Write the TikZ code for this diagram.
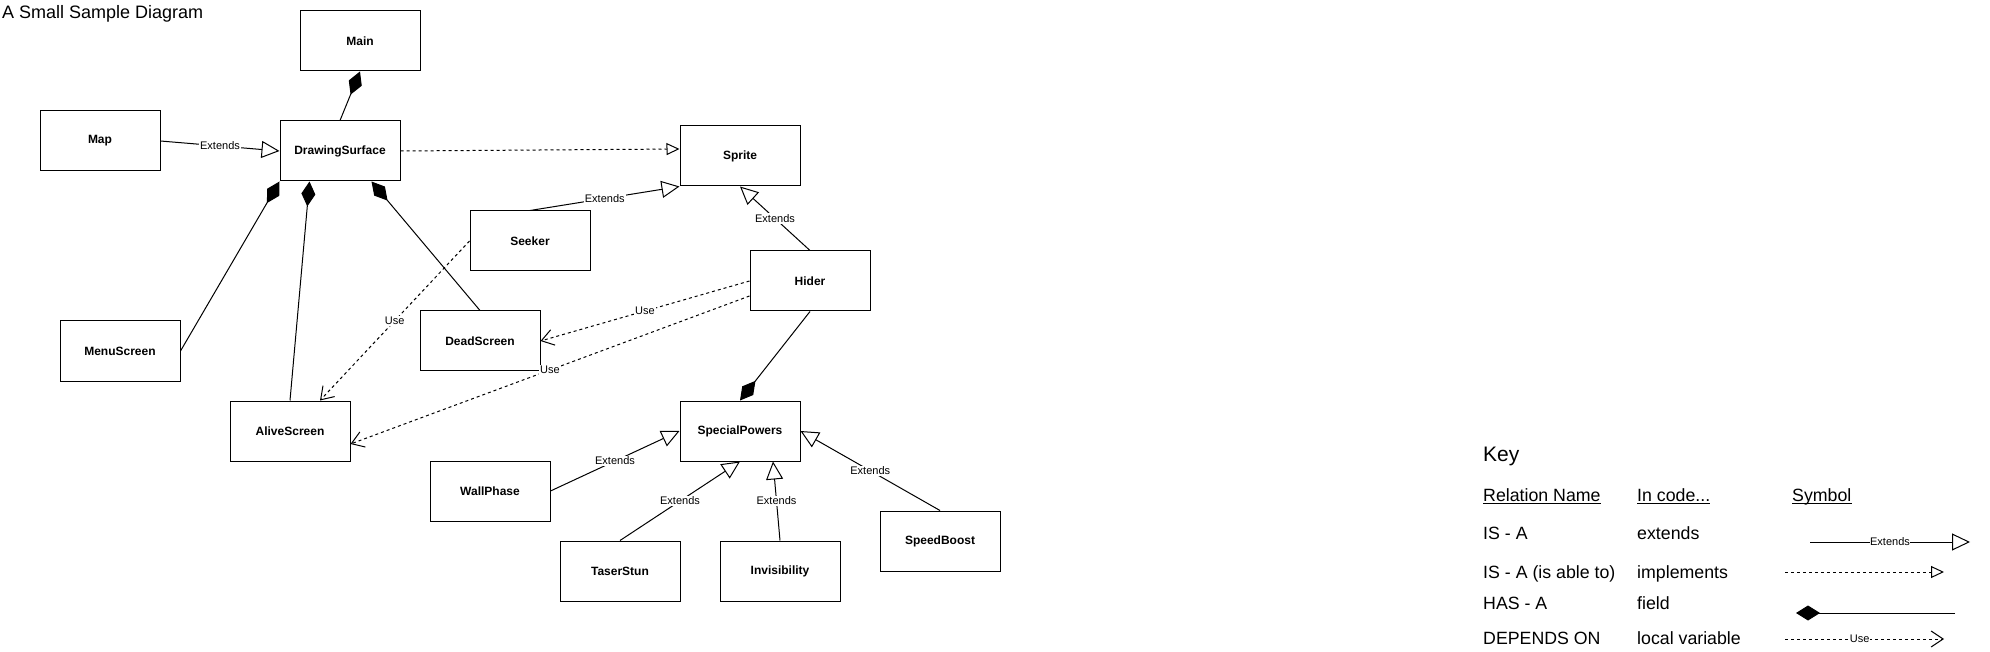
\documentclass[tikz,border=0pt]{standalone}
\usepackage{fontspec}
\setmainfont{Liberation Sans}
\usetikzlibrary{arrows.meta,calc}
\begin{document}
\begin{tikzpicture}[x=1pt,y=-1pt,
  cls/.style={draw,line width=1pt,minimum width=120pt,minimum height=60pt,inner sep=0pt,font=\fontsize{12}{14}\selectfont\bfseries},
  conn/.style={line width=1pt},
  ext/.style={conn,-{Triangle[open,length=18pt,width=17pt]}},
  impl/.style={conn,dash pattern=on 3pt off 3pt,-{Triangle[open,length=13pt,width=12pt]}},
  has/.style={conn,-{Diamond[length=25pt,width=14pt]}},
  usedep/.style={conn,dash pattern=on 3pt off 3pt,-{Straight Barb[length=12pt,width=16pt]}},
  lbl/.style={fill=white,inner sep=1pt,font=\fontsize{11}{12}\selectfont},
  keytxt/.style={anchor=base west,inner sep=0pt,font=\fontsize{17.75}{20}\selectfont}
]
\useasboundingbox (0,0) rectangle (1990,652);

% title
\node[anchor=base west,inner sep=0pt,font=\fontsize{18}{20}\selectfont] (title) at (2,19) {A Small Sample Diagram};

% classes
\node[cls] (main)   at (360,41)  {Main};
\node[cls] (map)    at (100,141) {Map};
\node[cls] (ds)     at (340,151) {DrawingSurface};
\node[cls] (sprite) at (740,156) {Sprite};
\node[cls] (seeker) at (530,241) {Seeker};
\node[cls] (hider)  at (810,281) {Hider};
\node[cls] (dead)   at (480,341) {DeadScreen};
\node[cls] (menu)   at (120,351) {MenuScreen};
\node[cls] (alive)  at (290,431) {AliveScreen};
\node[cls] (sp)     at (740,431) {SpecialPowers};
\node[cls] (wall)   at (490,491) {WallPhase};
\node[cls] (speed)  at (940,541) {SpeedBoost};
\node[cls] (taser)  at (620,571) {TaserStun};
\node[cls] (invis)  at (780,571) {Invisibility};

% composition
\draw[has] (ds.north) -- (main.south);
\draw[has] (menu.east) -- (ds.south west);
\draw[has] (alive.north) -- ([xshift=30pt]ds.south west);
\draw[has] (dead.north) -- ([xshift=92pt]ds.south west);
\draw[has] (hider.south) -- (sp.north);

% extends
\draw[ext] (map.east) -- node[lbl] {Extends} (ds.west);
\draw[ext] (seeker.north) -- node[lbl] {Extends} (sprite.south west);
\draw[ext] (hider.north) -- node[lbl] {Extends} (sprite.south);
\draw[ext] (wall.east) -- node[lbl] {Extends} (sp.west);
\draw[ext] (taser.north) -- node[lbl] {Extends} (sp.south);
\draw[ext] (invis.north) -- node[lbl] {Extends} ([xshift=33pt]sp.south);
\draw[ext] (speed.north) -- node[lbl] {Extends} (sp.east);

% implements
\draw[impl] (ds.east) -- ([yshift=7pt]sprite.west);

% use
\draw[usedep] (hider.west) -- node[lbl] {Use} (dead.east);
\draw[usedep] ([yshift=-15pt]hider.west) -- node[lbl] {Use} ([yshift=-13pt]alive.east);
\draw[usedep] (seeker.west) -- node[lbl] {Use} ([xshift=30pt]alive.north);

% key
\node[anchor=base west,inner sep=0pt,font=\fontsize{21}{24}\selectfont] (key) at (1483,461) {Key};
\node[keytxt] (h1) at (1483,501) {Relation Name};
\node[keytxt] (h2) at (1637,501) {In code...};
\node[keytxt] (h3) at (1792,501) {Symbol};
\foreach \h in {h1,h2,h3}{\draw[line width=1pt] ([yshift=-2.5pt]\h.base west) -- ([yshift=-2.5pt]\h.base east);}

\node[keytxt] (r1a) at (1483,539) {IS - A};
\node[keytxt] (r1b) at (1637,539) {extends};
\node[keytxt] (r2a) at (1483,578) {IS - A (is able to)};
\node[keytxt] (r2b) at (1637,578) {implements};
\node[keytxt] (r3a) at (1483,609) {HAS - A};
\node[keytxt] (r3b) at (1637,609) {field};
\node[keytxt] (r4a) at (1483,644) {DEPENDS ON};
\node[keytxt] (r4b) at (1637,644) {local variable};

\coordinate (k1s) at (1810,542);
\coordinate (k1e) at (1970,542);
\coordinate (k2s) at (1785,572);
\coordinate (k2e) at (1944,572);
\coordinate (k3s) at (1955,613);
\coordinate (k3e) at (1796,613);
\coordinate (k4s) at (1785,639);
\coordinate (k4e) at (1944,639);
\draw[ext] (k1s) -- node[lbl,inner sep=0.5pt] {Extends} (k1e);
\draw[impl] (k2s) -- (k2e);
\draw[has,-{Diamond[length=24pt,width=15pt]}] (k3s) -- (k3e);
\draw[usedep] (k4s) -- node[lbl,pos=0.47,inner sep=0.5pt] {Use} (k4e);
\end{tikzpicture}
\end{document}
